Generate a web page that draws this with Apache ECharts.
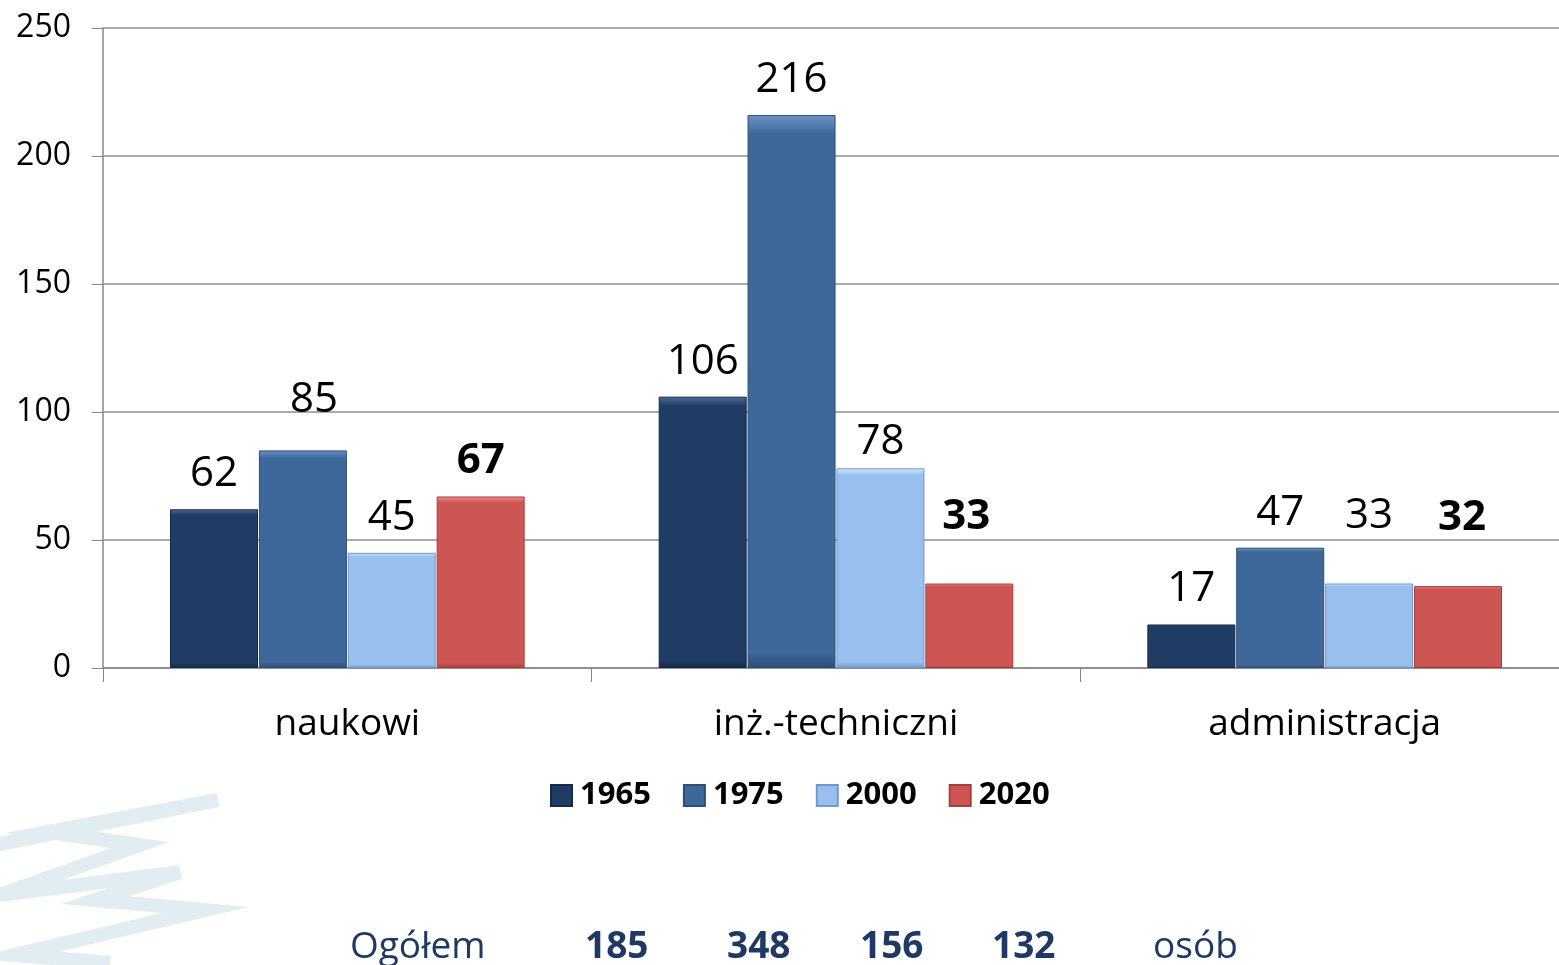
<!DOCTYPE html>
<html><head><meta charset="utf-8">
<script src="https://cdn.jsdelivr.net/npm/echarts@6/dist/echarts.min.js"></script>
<style>html,body{margin:0;padding:0;background:#fff;overflow:hidden;width:1559px;height:965px}#c{width:1569px;height:965px}</style>
</head><body><div id="c"></div>
<script>
const categories = ['naukowi', 'inż.-techniczni', 'administracja'];
const years = ['1965', '1975', '2000', '2020'];
const v1965 = [62, 106, 17];
const v1975 = [85, 216, 47];
const v2000 = [45, 78, 33];
const v2020 = [67, 33, 32];
const totals = [185, 348, 156, 132];
const yTicks = [0, 50, 100, 150, 200, 250];

// label placement tweaks (style only): [dx, dy] per series per category
const labelOffsets = [
  [[0, 0], [0, 0], [0, 0]],
  [[11, -15], [0, 0], [0, 0]],
  [[0, 0], [0, 9], [0, -32]],
  [[0, 0], [-3, -31], [4, -33]]
];

const colors = ['#1f3c64', '#3d6899', '#98bfed', '#cd5654'];
const dark = ['#152a48', '#2c4f78', '#6f9acc', '#a83e3c'];
const light = ['#4a6a95', '#6a94c5', '#d2eafd', '#f09290'];
const seriesVals = [v1965, v1975, v2000, v2020];
const FONT = '"Open Sans", "Noto Sans", sans-serif';

const chart = echarts.init(document.getElementById('c'));
const series = years.map((y, i) => ({
  name: y, type: 'bar',
  data: seriesVals[i].map((v, j) => ({value: v, label: {offset: labelOffsets[i][j]}})),
  barWidth: 88, barGap: '1%',
  itemStyle: {
    color: new echarts.graphic.LinearGradient(0, 0, 0, 1, [
      {offset: 0, color: light[i]}, {offset: 0.035, color: colors[i]},
      {offset: 0.97, color: colors[i]}, {offset: 1, color: dark[i]}]),
    borderColor: dark[i], borderWidth: 1
  },
  label: {
    show: true, position: 'top', distance: 14,
    fontFamily: FONT, fontSize: 42, color: '#000',
    fontWeight: i === 3 ? 'bold' : 'normal'
  }
}));

chart.setOption({
  animation: false,
  textStyle: {fontFamily: FONT},
  grid: {left: 103, top: 28, right: 0, height: 640, containLabel: false},
  legend: {
    data: years, top: 775, left: 545, itemWidth: 21, itemHeight: 21, itemGap: 32,
    icon: 'rect',
    textStyle: {fontFamily: FONT, fontSize: 31, fontWeight: 'bold', color: '#000', padding: [0,0,0,3]}
  },
  xAxis: {
    type: 'category', data: categories,
    axisLine: {lineStyle: {color: '#868686', width: 1.5}},
    axisTick: {show: true, length: 14, lineStyle: {color: '#868686'}},
    axisLabel: {fontFamily: FONT, fontSize: 37, color: '#000', margin: 38}
  },
  yAxis: {
    type: 'value', min: 0, max: 250, interval: 50,
    axisLine: {show: true, lineStyle: {color: '#868686', width: 1.5}},
    axisTick: {show: true, length: 11, lineStyle: {color: '#868686'}},
    splitLine: {lineStyle: {color: '#8c8c8c', width: 1.5}},
    axisLabel: {fontFamily: FONT, fontSize: 32, color: '#000', margin: 32,
      formatter: v => yTicks.includes(v) ? String(v) : ''}
  },
  series: series,
  graphic: [
    {type: 'polyline', z: -10, silent: true,
      shape: {points: [[-5, 845], [218, 800], [48, 832], [140, 845], [0, 895], [180, 872], [95, 900], [205, 910], [15, 955], [110, 963]]},
      style: {stroke: '#e2edf1', lineWidth: 14, fill: null, lineJoin: 'miter'}},
    {type: 'text', left: 350, top: 929, style: {text: 'Ogółem', font: '37px ' + FONT, fill: '#1f3864'}},
    ...totals.map((t, i) => ({type: 'text', left: [585, 727, 860, 992][i], top: 929,
      style: {text: String(t), font: 'bold 37px ' + FONT, fill: '#1f3864'}})),
    {type: 'text', left: 1153, top: 929, style: {text: 'osób', font: '37px ' + FONT, fill: '#1f3864'}}
  ]
});
</script></body></html>
